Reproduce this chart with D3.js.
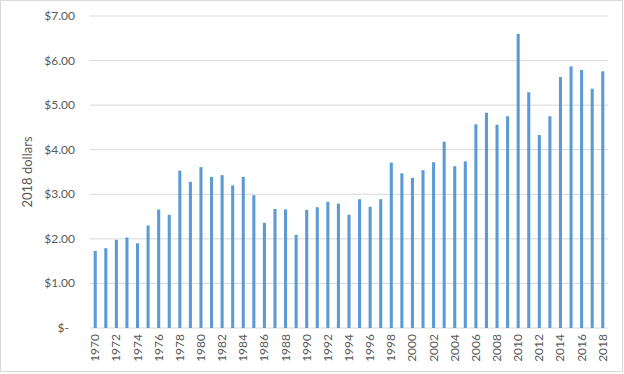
<!DOCTYPE html>
<html>
<head>
<meta charset="utf-8">
<script src="https://cdn.jsdelivr.net/npm/d3@7"></script>
<style>
  body { margin: 0; background: #fff; }
  svg { display: block; font-family: Lato, "Open Sans", sans-serif; }
</style>
</head>
<body>
<svg id="chart" width="624" height="374"></svg>
<script>
// years and price in 2018 dollars
const years = d3.range(1970, 2019)
const prices = [
  1.73, 1.79, 1.98, 2.03, 1.90, 2.30, 2.66, 2.54, 3.53, 3.28,
  3.61, 3.39, 3.43, 3.20, 3.39, 2.98, 2.36, 2.67, 2.66, 2.09,
  2.65, 2.71, 2.83, 2.79, 2.54, 2.89, 2.72, 2.89, 3.71, 3.47,
  3.37, 3.54, 3.72, 4.18, 3.63, 3.74, 4.57, 4.83, 4.56, 4.75,
  6.60, 5.29, 4.33, 4.75, 5.63, 5.87, 5.79, 5.37, 5.76
]
const yTicks = [0, 1, 2, 3, 4, 5, 6, 7]
const yTitle = "2018 dollars"

const svg = d3.select('#chart')
const plotLeft = 90, plotRight = 608, plotTop = 16, plotBottom = 328

// chart border
svg.append('rect')
    .attr('x', 0.5).attr('y', 0.5).attr('width', 622).attr('height', 371)
    .attr('fill', '#fff').attr('stroke', '#d9d9d9')

let x = d3.scaleBand().domain(years).range([plotLeft, plotRight]).paddingInner(0.71).paddingOuter(0.35)
let y = d3.scaleLinear().domain([0, 7]).range([plotBottom, plotTop])

// gridlines
svg.append('g').selectAll('line')
    .data(yTicks)
    .join('line')
    .attr('x1', plotLeft).attr('x2', plotRight)
    .attr('y1', d => y(d)).attr('y2', d => y(d))
    .attr('stroke', '#d9d9d9').attr('stroke-width', 1)

// y labels
svg.append('g').selectAll('text')
    .data(yTicks)
    .join('text')
    .attr('x', d => d === 0 ? 69 : 75)
    .attr('y', d => y(d) + 4)
    .attr('text-anchor', 'end')
    .attr('font-size', '12px')
    .attr('fill', '#595959')
    .text(d => d === 0 ? '$-' : d3.format('$.2f')(d))

// bars
svg.append('g').selectAll('rect')
    .data(prices)
    .join('rect')
    .attr('x', (d, i) => x(years[i]))
    .attr('width', x.bandwidth())
    .attr('y', d => y(d))
    .attr('height', d => y(0) - y(d))
    .attr('fill', '#5b9bd5')

// x labels, every other year
svg.append('g').selectAll('text')
    .data(years.filter(yr => yr % 2 === 0))
    .join('text')
    .attr('transform', d => `translate(${x(d) + x.bandwidth() / 2 + 4},${plotBottom + 6}) rotate(-90)`)
    .attr('text-anchor', 'end')
    .attr('font-size', '12px')
    .attr('fill', '#595959')
    .text(d => d)

// axis title
svg.append('text')
    .attr('transform', `translate(32,${(plotTop + plotBottom) / 2}) rotate(-90)`)
    .attr('text-anchor', 'middle')
    .attr('font-size', '13px')
    .attr('fill', '#595959')
    .text(yTitle)
</script>
</body>
</html>
